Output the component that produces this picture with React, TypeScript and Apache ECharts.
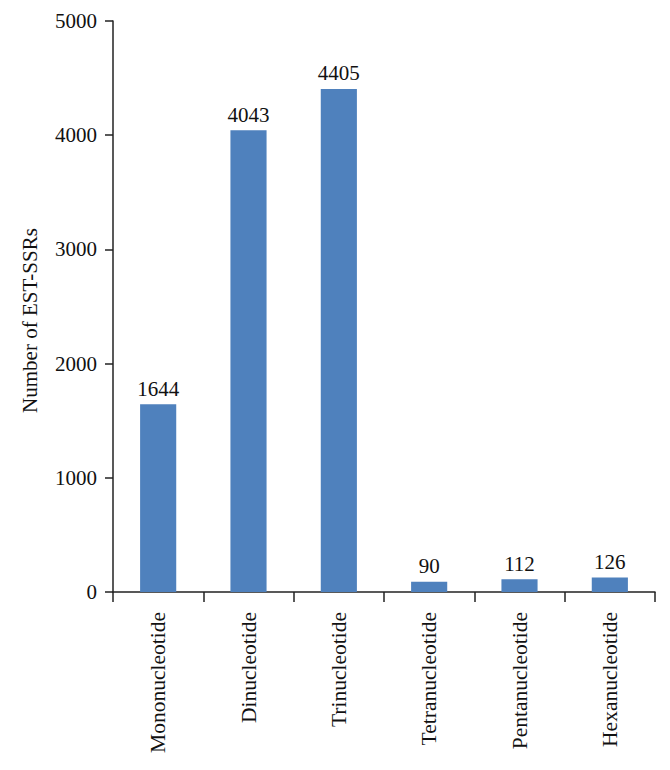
import React, { useEffect, useRef } from "react";
import * as echarts from "echarts";

const categories = ["Mononucleotide", "Dinucleotide", "Trinucleotide", "Tetranucleotide", "Pentanucleotide", "Hexanucleotide"];
const counts = [1644, 4043, 4405, 90, 112, 126];
const yTicks = { min: 0, max: 5000, interval: 1000 };

const FONT = "'Liberation Serif', 'Times New Roman', serif";

export default function App() {
  const ref = useRef<HTMLDivElement>(null);
  useEffect(() => {
    if (!ref.current) return;
    const chart = echarts.init(ref.current, undefined, { renderer: "svg" });
    chart.setOption({
      animation: false,
      backgroundColor: "#ffffff",
      grid: { left: 113, right: 15, top: 21, bottom: 178, containLabel: false },
      xAxis: {
        type: "category",
        data: categories,
        axisLine: { lineStyle: { color: "#222", width: 1.5 } },
        axisTick: { show: true, alignWithLabel: false, length: 10, lineStyle: { color: "#222", width: 1.5 } },
        axisLabel: { rotate: 90, margin: 20, color: "#111", fontFamily: FONT, fontSize: 21.5, interval: 0 },
      },
      yAxis: {
        type: "value",
        min: yTicks.min,
        max: yTicks.max,
        interval: yTicks.interval,
        name: "Number of EST-SSRs",
        nameLocation: "middle",
        nameGap: 73,
        nameTextStyle: { color: "#111", fontFamily: FONT, fontSize: 21, padding: [0, 0, 0, -28] },
        axisLine: { show: true, lineStyle: { color: "#222", width: 1.5 } },
        axisTick: { show: true, length: 8, lineStyle: { color: "#222", width: 1.5 } },
        axisLabel: { margin: 16, color: "#111", fontFamily: FONT, fontSize: 21, formatter: (v: number) => String(v) },
        splitLine: { show: false },
      },
      series: [
        {
          type: "bar",
          data: counts,
          barWidth: "40%",
          itemStyle: { color: "#4F81BD" },
          label: { show: true, position: "top", distance: 5, color: "#111", fontFamily: FONT, fontSize: 21 },
        },
      ],
    });
    return () => chart.dispose();
  }, []);
  return <div ref={ref} style={{ width: 670, height: 770, position: "absolute", left: 0, top: 0 }} />;
}
